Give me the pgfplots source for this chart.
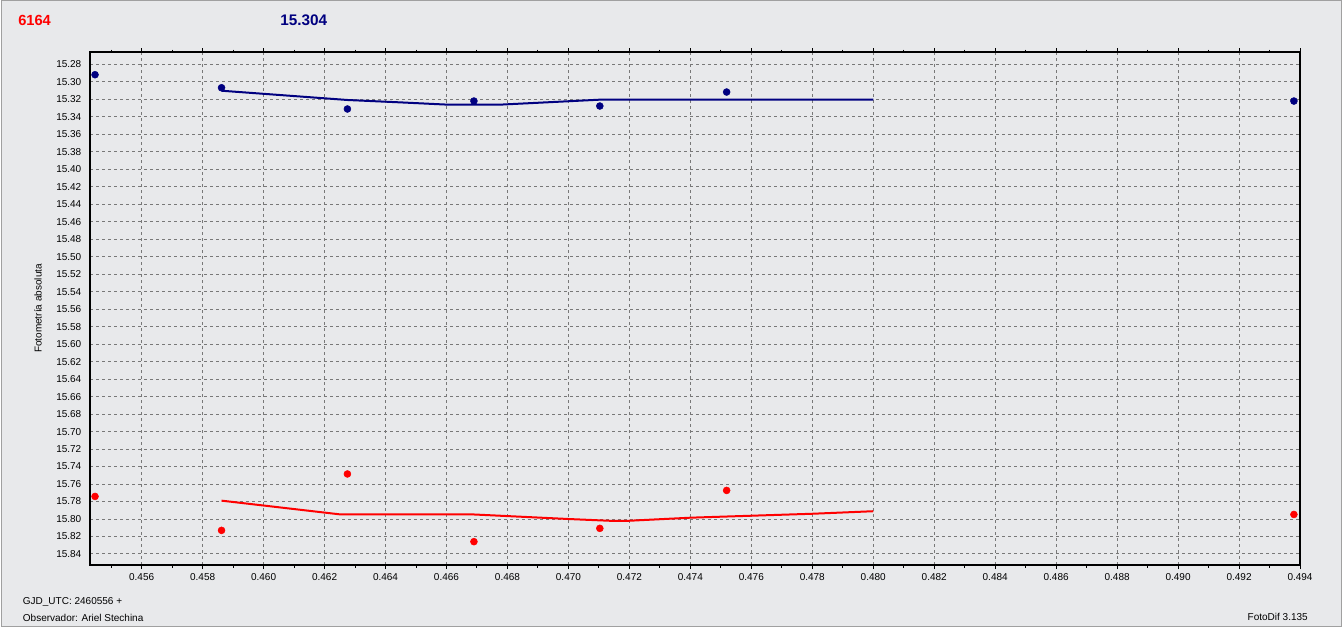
\documentclass[border=0pt]{standalone}
\usepackage{fontspec}
\setmainfont{Liberation Sans}
\usepackage{pgfplots}
\pgfplotsset{compat=1.18}
\definecolor{bg}{RGB}{232,233,235}
\definecolor{fr}{RGB}{160,160,160}
\definecolor{gridc}{RGB}{120,120,120}
\definecolor{navyc}{RGB}{0,0,128}
\definecolor{redc}{RGB}{255,0,0}
\begin{document}
\begin{tikzpicture}
\path[use as bounding box] (0,0) rectangle (1008pt,472.5pt);
\fill[white] (0,0) rectangle (1008pt,472.5pt);
\draw[fr, fill=bg, line width=0.75pt] (0.75pt,2.25pt) rectangle (1005.75pt,471.75pt);
\begin{axis}[
  at={(67.5pt,48.75pt)}, anchor=south west,
  scale only axis, width=907.5pt, height=384.5pt,
  xmin=0.454305, xmax=0.494, ymin=15.2663, ymax=15.8526,
  y dir=reverse,
  axis background/.style={fill=bg},
  xtick={0.456,0.458,0.460,0.462,0.464,0.466,0.468,0.470,0.472,0.474,0.476,0.478,0.480,0.482,0.484,0.486,0.488,0.490,0.492,0.494},
  minor xtick={0.455,0.457,0.459,0.461,0.463,0.465,0.467,0.469,0.471,0.473,0.475,0.477,0.479,0.481,0.483,0.485,0.487,0.489,0.491,0.493},
  ytick={15.28,15.30,15.32,15.34,15.36,15.38,15.40,15.42,15.44,15.46,15.48,15.50,15.52,15.54,15.56,15.58,15.60,15.62,15.64,15.66,15.68,15.70,15.72,15.74,15.76,15.78,15.80,15.82,15.84},
  scaled x ticks=false, scaled y ticks=false,
  xticklabel style={/pgf/number format/fixed, /pgf/number format/fixed zerofill, /pgf/number format/precision=3},
  yticklabel style={/pgf/number format/fixed, /pgf/number format/fixed zerofill, /pgf/number format/precision=2},
  /pgf/number format/assume math mode=true,
  tick label style={font=\fontsize{7.5}{9}\selectfont, black},
  grid=major,
  major grid style={gridc, line width=0.75pt, dash pattern=on 2.25pt off 2.25pt},
  axis line style={black, line width=1.5pt},
  tick align=outside,
  major tick length=3pt, minor tick length=2pt,
  xtick style={black, line width=0.75pt},
  ytick style={draw=none},
  clip=false,
]
\addplot[navyc, line width=1.5pt] coordinates {
(0.45862,15.3102) (0.46275,15.3208) (0.46447,15.3235) (0.46608,15.3262)
(0.46772,15.3262) (0.47100,15.3205) (0.48000,15.3205)};
\addplot[redc, line width=1.5pt] coordinates {
(0.45862,15.7790) (0.46253,15.7948) (0.46689,15.7948) (0.47000,15.8000)
(0.47134,15.8020) (0.47199,15.8020) (0.47400,15.7985) (0.47800,15.7940) (0.48000,15.7911)};
\addplot[only marks, mark=*, mark size=2.6pt, navyc] coordinates {
(0.45447,15.2919) (0.45862,15.3068) (0.46275,15.3311) (0.46690,15.3220)
(0.47103,15.3277) (0.47519,15.3117) (0.49380,15.3220)};
\addplot[only marks, mark=*, mark size=2.6pt, redc] coordinates {
(0.45447,15.7742) (0.45862,15.8130) (0.46275,15.7485) (0.46690,15.8259)
(0.47103,15.8107) (0.47519,15.7673) (0.49380,15.7948)};
\end{axis}
\node[anchor=west, inner sep=0pt, text=redc, font=\fontsize{11}{13}\selectfont\bfseries] at (13.5pt,457.5pt) {6164};
\node[anchor=west, inner sep=0pt, text=navyc, font=\fontsize{11.5}{13}\selectfont\bfseries] at (210pt,457.5pt) {15.304};
\node[rotate=90, inner sep=0pt, font=\fontsize{7.5}{9}\selectfont] at (28.5pt,241.1pt) {Fotometría absoluta};
\node[anchor=west, inner sep=0pt, font=\fontsize{7.5}{9}\selectfont] at (17pt,20.8pt) {GJD\_UTC: 2460556 +};
\node[anchor=west, inner sep=0pt, font=\fontsize{7.5}{9}\selectfont] at (17pt,9.2pt) {Observador: Ariel Stechina};
\node[anchor=east, inner sep=0pt, font=\fontsize{7.5}{9}\selectfont] at (981pt,9.5pt) {FotoDif 3.135};
\end{tikzpicture}
\end{document}
